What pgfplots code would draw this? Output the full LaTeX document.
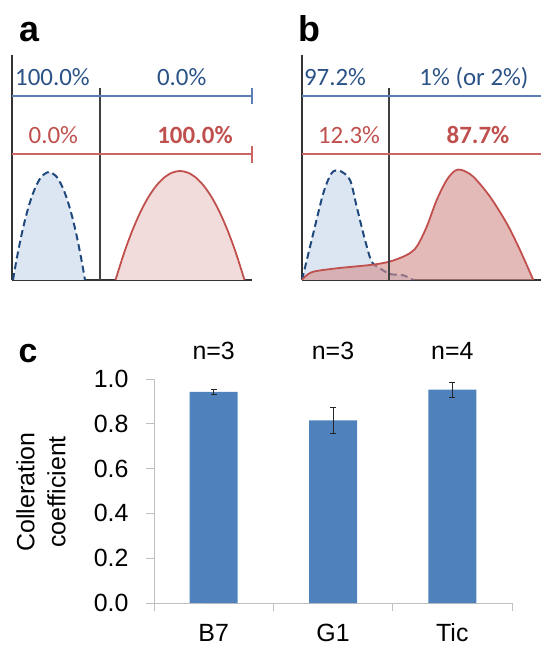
\documentclass[border=0pt]{standalone}
\usepackage{pgfplots}
\pgfplotsset{compat=1.18}
\usepackage{fontspec}
\setmainfont{Liberation Sans}
\newfontfamily\calibri{Carlito}
\definecolor{dblue}{HTML}{1F497D}
\definecolor{tblue}{HTML}{2A5286}
\definecolor{lblue}{HTML}{5A7FB5}
\definecolor{bfill}{HTML}{DCE6F2}
\definecolor{dred}{HTML}{C0504D}
\definecolor{lred}{HTML}{CC6664}
\definecolor{rfillA}{HTML}{F2DCDB}
\definecolor{rfillB}{HTML}{D48F8D}
\definecolor{barc}{HTML}{4F81BD}
\definecolor{axgray}{HTML}{BFBFBF}
\tikzset{pct/.style={anchor=base, font=\calibri\fontsize{25}{30}\selectfont}}

\begin{document}
\begin{tikzpicture}
\useasboundingbox (0,0) rectangle (541bp,645bp);
\pgfplotsset{sketch/.style={scale only axis, width=240bp, height=225bp,
  xmin=0, xmax=240, ymin=0, ymax=225,
  axis x line=bottom, axis y line=left,
  axis line style={-, black!80, line width=1.3pt}, ticks=none, clip=false}}

% ---------------- panel a
\begin{axis}[sketch, at={(12bp,365bp)}, anchor=south west]
\addplot[fill=bfill, draw=none, smooth] coordinates {
(1,0) (5,22.7) (10,47.3) (15,67.7) (20,83.9) (25,96) (30,103.9) (37,108)
(44,103.9) (50,93.9) (55,81) (60,63.9) (65,42.7) (70,17.2) (73,0)} \closedcycle;
\addplot[draw=dblue, line width=2pt, dash pattern=on 7pt off 4pt, smooth] coordinates {
(1,0) (5,22.7) (10,47.3) (15,67.7) (20,83.9) (25,96) (30,103.9) (37,108)
(44,103.9) (50,93.9) (55,81) (60,63.9) (65,42.7) (70,17.2) (73,0)};
\addplot[fill=rfillA, draw=none, smooth] coordinates {
(103.5,0) (112,26.8) (120,48.6) (128,67.1) (136,82.2) (144,93.9) (152,102.3) (160,107.3) (168,109)
(176,107.3) (184,102.3) (192,93.9) (200,82.2) (208,67.1) (216,48.6) (224,26.8) (232.5,0)} \closedcycle;
\addplot[draw=dred, line width=1.8pt, smooth] coordinates {
(103.5,0) (112,26.8) (120,48.6) (128,67.1) (136,82.2) (144,93.9) (152,102.3) (160,107.3) (168,109)
(176,107.3) (184,102.3) (192,93.9) (200,82.2) (208,67.1) (216,48.6) (224,26.8) (232.5,0)};
\draw[black!75, line width=1.3pt] (axis cs:88,0) -- (axis cs:88,192);
\draw[lblue, line width=1.2pt] (axis cs:0,184) -- (axis cs:240,184);
\draw[lblue, line width=1.2pt] (axis cs:240,176) -- (axis cs:240,192);
\draw[lred, line width=1.2pt] (axis cs:0,126) -- (axis cs:240,126);
\draw[lred, line width=1.2pt] (axis cs:240,117) -- (axis cs:240,134);
\node[pct, text=tblue] at (axis cs:40.5,194) {100.0\%};
\node[pct, text=tblue] at (axis cs:169.7,194) {0.0\%};
\node[pct, text=dred] at (axis cs:41.3,136) {0.0\%};
\node[pct, text=dred] at (axis cs:183,136) {\bfseries 100.0\%};
\end{axis}

% ---------------- panel b
\begin{axis}[sketch, width=239bp, xmax=239, at={(302bp,365bp)}, anchor=south west]
\addplot[fill=bfill, draw=none, smooth] coordinates {
(0,0) (11.3,46.7) (21.3,86.7) (29.7,107) (38,109) (48,100) (54.7,73.3) (63,40)
(69.7,18.3) (78,11.7) (88,6) (101.3,4.7) (111.3,0)} \closedcycle;
\addplot[draw=dblue, line width=2pt, dash pattern=on 7pt off 4pt, smooth] coordinates {
(0,0) (11.3,46.7) (21.3,86.7) (29.7,107) (38,109) (48,100) (54.7,73.3) (63,40)
(69.7,18.3) (78,11.7) (88,6) (101.3,4.7) (111.3,0)};
\addplot[fill=rfillB, fill opacity=0.62, draw=none, smooth] coordinates {
(0,0) (3,3.3) (11.3,8.3) (34.7,11.7) (68,15) (87.3,18.3) (104.7,25) (114.7,33.3)
(124.7,53.3) (134.7,80) (144.7,100) (153,109.3) (159.7,110) (171.3,103.3)
(188,83.3) (204.7,56.7) (218,30) (231.3,0)} \closedcycle;
\addplot[draw=dred, line width=1.8pt, smooth] coordinates {
(0,0) (3,3.3) (11.3,8.3) (34.7,11.7) (68,15) (87.3,18.3) (104.7,25) (114.7,33.3)
(124.7,53.3) (134.7,80) (144.7,100) (153,109.3) (159.7,110) (171.3,103.3)
(188,83.3) (204.7,56.7) (218,30) (231.3,0)};
\draw[black!75, line width=1.3pt] (axis cs:87,0) -- (axis cs:87,192);
\draw[lblue, line width=1.2pt] (axis cs:0,184) -- (axis cs:239,184);
\draw[lred, line width=1.2pt] (axis cs:0,126) -- (axis cs:239,126);
\node[pct, text=tblue] at (axis cs:33,194) {97.2\%};
\node[pct, text=tblue] at (axis cs:172,194) {1\% (or 2\%)};
\node[pct, text=dred] at (axis cs:47,136) {12.3\%};
\node[pct, text=dred] at (axis cs:176,136) {\bfseries 87.7\%};
\end{axis}

% ---------------- panel c
\begin{axis}[scale only axis, width=358bp, height=224bp, at={(154bp,42bp)}, anchor=south west,
  xmin=-0.5, xmax=2.5, ymin=0, ymax=1, clip=false,
  axis x line*=bottom, axis y line*=left,
  axis line style={-, axgray, line width=0.9pt},
  tick style={axgray, line width=0.9pt}, tick align=outside, major tick length=8bp,
  xtick={-0.5,0.5,1.5,2.5}, xticklabels={},
  extra x ticks={0,1,2}, extra x tick labels={B7,G1,Tic},
  extra x tick style={major tick length=0pt, tick style={draw=none},
     xticklabel style={anchor=base, inner sep=0pt, yshift=-38bp}},
  ytick={0,0.2,0.4,0.6,0.8,1},
  /pgf/number format/assume math mode=true,
  yticklabel style={xshift=-14bp, /pgf/number format/.cd, fixed, fixed zerofill, precision=1},
  tick label style={font=\fontsize{25}{29}\selectfont, black},
  ]
\addplot[ybar, bar width=48bp, fill=barc, draw=none,
  error bars/.cd, y dir=both, y explicit,
  error bar style={black!85, line width=0.7pt},
  error mark options={rotate=90, mark size=3bp, black!85, line width=0.7pt}]
  coordinates {(0,0.943) +- (0,0.013) (1,0.815) +- (0,0.059) (2,0.952) +- (0,0.035)};
\draw[axgray, line width=0.9pt] (axis cs:-0.5,0) -- ++(-8bp,0);
\node[anchor=base, font=\fontsize{25}{29}\selectfont] at (axis cs:0,1.085) {n=3};
\node[anchor=base, font=\fontsize{25}{29}\selectfont] at (axis cs:1,1.085) {n=3};
\node[anchor=base, font=\fontsize{25}{29}\selectfont] at (axis cs:2,1.085) {n=4};
\end{axis}

\node[rotate=90, align=center, font=\fontsize{25}{31}\selectfont] at (41bp,153bp) {Colleration\\coefficient};
\node[anchor=base, font=\fontsize{36}{40}\selectfont\bfseries] at (29bp,603bp) {a};
\node[anchor=base, font=\fontsize{36}{40}\selectfont\bfseries] at (309bp,603bp) {b};
\node[anchor=base, font=\fontsize{34}{40}\selectfont\bfseries] at (28bp,282bp) {c};
\end{tikzpicture}
\end{document}
